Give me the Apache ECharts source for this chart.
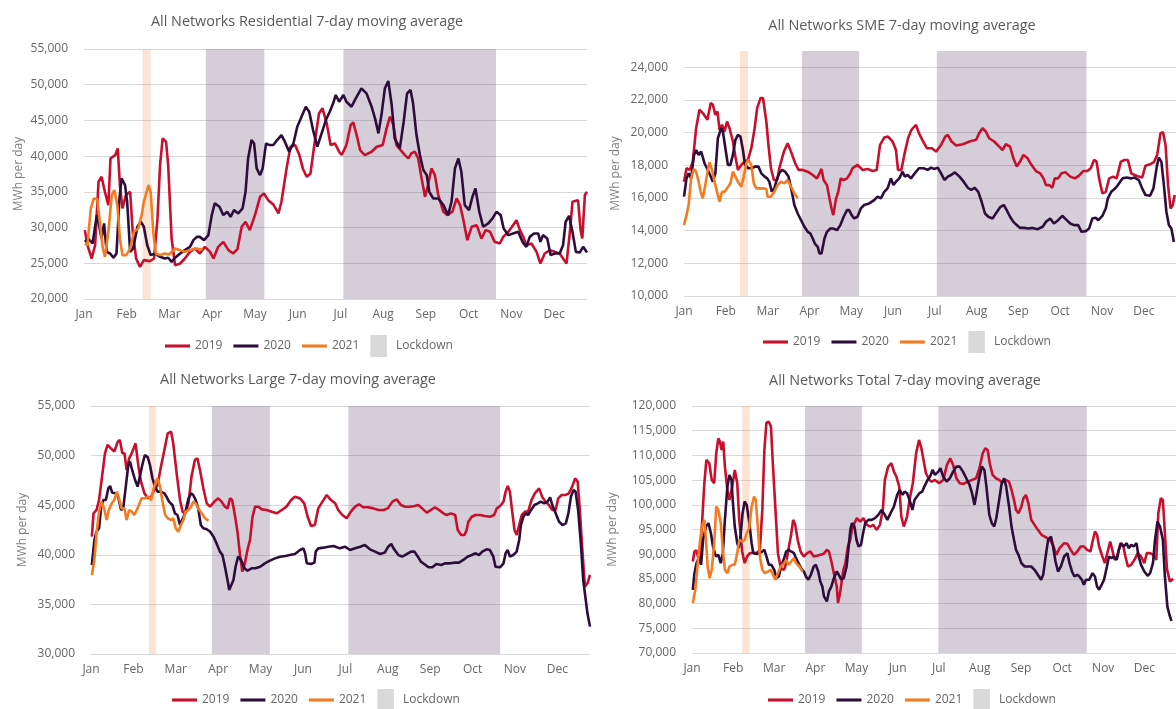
<!DOCTYPE html>
<html><head><meta charset="utf-8">
<script src="https://cdn.jsdelivr.net/npm/echarts@6/dist/echarts.min.js"></script>
<style>html,body{margin:0;padding:0;background:#fff}#c{width:1176px;height:709px}</style>
</head><body><div id="c"></div>
<script>
const months = ['Jan','Feb','Mar','Apr','May','Jun','Jul','Aug','Sep','Oct','Nov','Dec'];
const seriesNames = ['2019','2020','2021'];
const titles = ['All Networks Residential 7-day moving average','All Networks SME 7-day moving average','All Networks Large 7-day moving average','All Networks Total 7-day moving average'];

// x = month index (0 = 1 Jan), y = MWh per day
const res2019 = [[0.02,29640],[0.08,27540],[0.18,25670],[0.26,27540],[0.34,36410],[0.41,37110],[0.49,35000],[0.57,33140],[0.62,39680],[0.73,40150],[0.79,41080],[0.84,35950],[0.90,32680],[0.98,34550],[1.08,35010],[1.14,29410],[1.22,25670],[1.31,24500],[1.40,25440],[1.54,25300],[1.64,25670],[1.72,31280],[1.78,38750],[1.84,42480],[1.92,42020],[1.97,38750],[2.05,28470],[2.13,24740],[2.25,24970],[2.36,25670],[2.48,26600],[2.60,27070],[2.71,26370],[2.83,27300],[2.95,26600],[3.03,25670],[3.14,27300],[3.26,28000],[3.38,26840],[3.49,26370],[3.59,26980],[3.69,30110],[3.78,30810],[3.88,29640],[4.00,31740],[4.12,34310],[4.21,34780],[4.31,33840],[4.43,33240],[4.55,31980],[4.62,33610],[4.74,38280],[4.83,41320],[4.94,41550],[5.04,40150],[5.12,38280],[5.21,37110],[5.30,37580],[5.40,42020],[5.50,45990],[5.58,46690],[5.68,44590],[5.77,41550],[5.87,41780],[5.97,40620],[6.03,40150],[6.14,41550],[6.24,44350],[6.30,44730],[6.38,42950],[6.46,40850],[6.57,40150],[6.73,40620],[6.85,41320],[6.99,41550],[7.08,43890],[7.16,45520],[7.24,44350],[7.31,41550],[7.41,40850],[7.51,40150],[7.59,39680],[7.66,40380],[7.74,40620],[7.82,39680],[7.90,36880],[7.98,34310],[8.05,35950],[8.13,38280],[8.21,37340],[8.29,34550],[8.41,32210],[8.50,31740],[8.62,32210],[8.72,34080],[8.80,33140],[8.87,31280],[8.97,28240],[9.07,30110],[9.19,30340],[9.30,28470],[9.40,29640],[9.50,29410],[9.61,28000],[9.73,27770],[9.81,28700],[9.93,29410],[10.04,30340],[10.12,31040],[10.20,29640],[10.28,28700],[10.35,27540],[10.47,27770],[10.59,26600],[10.68,24970],[10.78,26370],[10.90,26840],[11.02,26600],[11.13,26370],[11.21,25670],[11.29,24970],[11.37,29410],[11.43,33610],[11.56,33840],[11.62,29640],[11.66,28470],[11.72,34550],[11.77,35010]];
const res2020 = [[0.02,28000],[0.10,28470],[0.20,27770],[0.30,31740],[0.36,30110],[0.41,28470],[0.47,30580],[0.53,26600],[0.61,26370],[0.69,25770],[0.76,26370],[0.83,34080],[0.88,36880],[0.96,35950],[1.01,33610],[1.08,26600],[1.15,27070],[1.25,30110],[1.33,30810],[1.40,30110],[1.48,27540],[1.56,26140],[1.66,26370],[1.78,25910],[1.89,25670],[1.97,25770],[2.05,25200],[2.13,25770],[2.25,26370],[2.36,26840],[2.48,27300],[2.56,28240],[2.64,28700],[2.71,28700],[2.81,28240],[2.91,28940],[2.99,31740],[3.06,33380],[3.17,32910],[3.26,31740],[3.35,32210],[3.43,31510],[3.51,32440],[3.61,31980],[3.71,32680],[3.78,35010],[3.84,39680],[3.92,42250],[3.98,41780],[4.04,38280],[4.12,37340],[4.18,38280],[4.26,41780],[4.34,41550],[4.43,41550],[4.52,42250],[4.62,42950],[4.70,42020],[4.80,40620],[4.90,41780],[4.99,44120],[5.09,45520],[5.19,46920],[5.27,46220],[5.36,43650],[5.46,41320],[5.56,43190],[5.66,45050],[5.75,46220],[5.83,47390],[5.89,48560],[5.97,47620],[6.07,48560],[6.14,47620],[6.26,46920],[6.36,48090],[6.49,49490],[6.61,48790],[6.73,46920],[6.81,45290],[6.89,43190],[6.96,45750],[7.04,49490],[7.12,50520],[7.20,47160],[7.27,42480],[7.39,41080],[7.48,44820],[7.56,48790],[7.64,49260],[7.70,47390],[7.78,42950],[7.86,40150],[7.94,38050],[8.02,37340],[8.08,35010],[8.17,34080],[8.29,34080],[8.41,33140],[8.52,31740],[8.60,33610],[8.68,38280],[8.76,39680],[8.83,37810],[8.91,33140],[9.01,32440],[9.09,34310],[9.16,35480],[9.25,32210],[9.34,30110],[9.46,30580],[9.56,31280],[9.65,32210],[9.75,31740],[9.82,29870],[9.93,28940],[10.04,29170],[10.16,29410],[10.26,28000],[10.35,27300],[10.43,28700],[10.53,29170],[10.63,29170],[10.68,28000],[10.74,28940],[10.84,28470],[10.92,26140],[11.02,26370],[11.13,26370],[11.21,27540],[11.27,30810],[11.35,31650],[11.43,29410],[11.51,26600],[11.60,26510],[11.68,27300],[11.77,26510]];
const res2021 = [[0.02,27770],[0.08,27540],[0.16,32680],[0.23,34080],[0.31,33990],[0.37,30810],[0.44,27070],[0.49,25910],[0.57,29410],[0.65,34550],[0.71,35250],[0.78,33140],[0.84,28470],[0.90,26140],[0.99,26140],[1.08,27070],[1.17,29410],[1.27,29870],[1.35,31740],[1.40,33610],[1.51,35950],[1.56,35010],[1.62,29410],[1.68,26370],[1.78,26140],[1.89,26370],[1.99,26230],[2.13,27070],[2.25,26840],[2.36,26600],[2.48,26840],[2.60,27070],[2.70,26980],[2.78,26980]];

const sme2019 = [[0.00,17000],[0.06,17820],[0.14,17720],[0.21,18230],[0.29,20270],[0.37,21400],[0.45,21200],[0.56,20790],[0.64,21810],[0.69,21710],[0.75,21090],[0.80,21300],[0.85,20170],[0.91,20480],[0.97,20070],[1.03,20680],[1.09,20270],[1.17,19460],[1.23,18530],[1.29,17720],[1.37,18030],[1.45,18230],[1.53,18330],[1.61,19050],[1.69,20270],[1.75,21500],[1.83,22120],[1.89,22120],[1.97,20680],[2.02,19250],[2.08,17820],[2.15,17100],[2.23,17100],[2.28,17820],[2.39,18840],[2.48,19350],[2.56,18840],[2.66,18130],[2.74,17720],[2.84,17720],[2.96,17610],[3.08,17410],[3.18,17200],[3.24,17510],[3.29,17780],[3.34,17100],[3.42,16790],[3.48,15980],[3.53,15360],[3.57,14950],[3.64,15980],[3.69,16380],[3.75,17200],[3.82,17100],[3.90,17200],[3.98,17510],[4.03,17820],[4.15,18030],[4.27,17720],[4.39,17780],[4.51,17650],[4.61,17720],[4.69,19250],[4.79,19700],[4.88,19760],[4.99,19460],[5.07,18940],[5.12,17720],[5.20,17720],[5.27,18640],[5.36,19660],[5.44,20170],[5.55,20480],[5.62,19970],[5.70,19560],[5.81,19050],[5.93,19050],[6.03,18840],[6.15,19250],[6.25,19760],[6.31,19860],[6.40,19460],[6.51,19210],[6.67,19290],[6.83,19460],[6.99,19560],[7.06,19970],[7.14,20270],[7.22,20070],[7.30,19660],[7.42,19460],[7.54,19150],[7.62,18940],[7.70,19290],[7.80,19150],[7.88,18430],[7.96,17920],[8.04,18230],[8.12,18640],[8.22,18430],[8.31,18030],[8.42,17650],[8.52,17510],[8.60,17200],[8.66,16790],[8.74,16790],[8.81,16630],[8.87,17200],[8.95,17200],[9.03,17510],[9.13,17570],[9.24,17310],[9.35,17200],[9.45,17370],[9.55,17650],[9.65,17650],[9.73,17820],[9.81,18330],[9.87,18230],[9.93,17200],[10.01,16280],[10.09,16380],[10.17,17200],[10.27,17310],[10.35,17200],[10.45,18230],[10.54,18330],[10.62,18330],[10.70,17510],[10.78,17410],[10.88,17310],[10.96,17250],[11.04,17980],[11.15,18060],[11.24,18190],[11.32,18640],[11.40,19970],[11.46,20030],[11.52,19250],[11.58,16790],[11.64,15360],[11.69,15570],[11.74,16180]];
const sme2020 = [[0.00,16080],[0.06,17200],[0.11,17510],[0.17,17200],[0.24,18640],[0.29,18940],[0.35,18640],[0.41,18840],[0.49,18130],[0.57,17720],[0.64,17310],[0.69,17000],[0.75,17510],[0.81,19660],[0.89,20270],[0.93,20070],[0.99,19050],[1.05,18030],[1.11,18030],[1.17,18640],[1.23,19560],[1.29,19860],[1.35,19760],[1.41,18940],[1.46,18030],[1.54,17820],[1.62,17820],[1.70,17920],[1.78,17920],[1.85,17510],[1.93,17310],[1.99,17200],[2.04,17000],[2.10,16380],[2.16,16590],[2.23,17200],[2.28,17510],[2.34,17720],[2.42,17610],[2.50,17310],[2.58,16380],[2.64,15570],[2.72,15050],[2.80,14640],[2.88,14240],[2.96,13930],[3.02,13830],[3.08,13520],[3.13,13210],[3.20,13010],[3.24,12600],[3.29,12600],[3.36,13520],[3.42,13930],[3.50,14130],[3.58,14130],[3.66,14030],[3.74,14340],[3.82,14850],[3.90,15260],[3.95,15260],[4.01,14950],[4.07,14750],[4.15,14850],[4.23,15360],[4.31,15570],[4.43,15670],[4.55,15870],[4.63,16080],[4.71,15980],[4.79,16380],[4.87,16590],[4.95,17200],[5.01,16790],[5.07,17000],[5.15,17200],[5.23,17610],[5.28,17310],[5.35,17410],[5.43,17200],[5.52,17510],[5.62,17820],[5.73,17820],[5.83,17720],[5.91,17860],[5.99,17780],[6.07,17860],[6.15,17510],[6.23,17100],[6.31,17310],[6.39,17410],[6.48,17570],[6.59,17310],[6.69,17000],[6.79,16630],[6.87,16490],[6.95,16630],[7.04,16380],[7.12,15770],[7.20,15050],[7.28,14850],[7.38,14750],[7.46,15050],[7.57,15460],[7.65,15570],[7.72,15260],[7.80,14850],[7.88,14540],[7.96,14340],[8.04,14170],[8.14,14170],[8.23,14130],[8.34,14170],[8.46,14090],[8.58,14240],[8.66,14540],[8.76,14750],[8.85,14440],[8.95,14640],[9.05,14910],[9.13,14710],[9.24,14440],[9.33,14340],[9.43,14340],[9.51,13930],[9.61,13970],[9.69,14130],[9.77,14750],[9.85,14790],[9.91,14640],[10.01,14910],[10.09,15360],[10.14,15980],[10.22,16380],[10.30,16550],[10.38,16790],[10.49,17200],[10.59,17250],[10.69,17200],[10.78,17250],[10.88,17100],[10.96,16590],[11.04,16180],[11.15,16140],[11.23,16590],[11.31,17920],[11.36,18470],[11.42,18230],[11.48,16790],[11.54,15160],[11.60,14340],[11.66,14130],[11.72,13310]];
const sme2021 = [[0.00,14340],[0.06,14950],[0.11,15570],[0.17,17200],[0.24,17780],[0.29,17610],[0.35,17000],[0.40,16380],[0.45,15980],[0.51,16790],[0.57,17720],[0.61,18190],[0.67,17720],[0.73,17000],[0.80,16280],[0.85,15770],[0.91,16380],[0.97,16380],[1.03,16590],[1.11,16900],[1.17,17610],[1.23,17310],[1.29,17000],[1.37,16690],[1.43,17310],[1.49,18130],[1.54,18330],[1.61,18030],[1.67,16900],[1.73,16590],[1.81,16590],[1.89,16590],[1.97,16550],[2.00,16080],[2.08,16080],[2.16,16380],[2.24,16790],[2.32,17000],[2.40,16900],[2.48,17100],[2.56,16690],[2.64,16280],[2.72,15980]];

const lrg2019 = [[0.02,41830],[0.06,44180],[0.13,44520],[0.19,45520],[0.25,47540],[0.33,50230],[0.39,51070],[0.47,50730],[0.55,50400],[0.63,51400],[0.68,51570],[0.74,50230],[0.79,50230],[0.84,48550],[0.90,49720],[0.96,50230],[1.02,50900],[1.05,51240],[1.12,48880],[1.18,47370],[1.26,46200],[1.34,45690],[1.42,45860],[1.49,46530],[1.57,47040],[1.65,48880],[1.73,50560],[1.81,52240],[1.89,52410],[1.94,51240],[2.02,48210],[2.10,45520],[2.16,44350],[2.22,44180],[2.30,45190],[2.37,47880],[2.45,49560],[2.51,49720],[2.57,48550],[2.65,46700],[2.73,45190],[2.81,44850],[2.91,45360],[3.00,45690],[3.08,45360],[3.16,44850],[3.22,44680],[3.28,45690],[3.33,45520],[3.40,43840],[3.46,42160],[3.51,40150],[3.57,38300],[3.63,39140],[3.69,40480],[3.75,41490],[3.81,43840],[3.87,44850],[3.95,44850],[4.03,44580],[4.14,44520],[4.26,44350],[4.38,44180],[4.50,44520],[4.61,44850],[4.72,45520],[4.81,45860],[4.93,45690],[5.03,45190],[5.11,43840],[5.19,42900],[5.28,43000],[5.36,44680],[5.46,45360],[5.56,46030],[5.66,45520],[5.76,45190],[5.83,44520],[5.93,44010],[6.03,43680],[6.13,44350],[6.23,44850],[6.32,45090],[6.42,44790],[6.54,44790],[6.66,44680],[6.78,44520],[6.90,44520],[7.00,44680],[7.11,45360],[7.21,45590],[7.31,45020],[7.41,44850],[7.52,44850],[7.63,44920],[7.72,45020],[7.81,44680],[7.92,44250],[8.02,44520],[8.11,44790],[8.21,44520],[8.31,44180],[8.39,44010],[8.49,44180],[8.59,44010],[8.65,42500],[8.73,42000],[8.81,42000],[8.86,42500],[8.90,43340],[8.98,43840],[9.07,44010],[9.18,44010],[9.29,43910],[9.41,43840],[9.51,44010],[9.57,44680],[9.65,44920],[9.73,45360],[9.78,46370],[9.83,46940],[9.88,46370],[9.94,44180],[9.99,42500],[10.04,42000],[10.10,43000],[10.16,44010],[10.24,44350],[10.31,44350],[10.39,45520],[10.47,46200],[10.57,46700],[10.64,45860],[10.72,45360],[10.80,45020],[10.88,44520],[10.96,44520],[11.02,45690],[11.10,46030],[11.20,46030],[11.27,46200],[11.35,46870],[11.42,47710],[11.48,47370],[11.53,44520],[11.59,40480],[11.65,36790],[11.71,37130],[11.77,37970]];
const lrg2020 = [[0.02,38970],[0.08,41490],[0.13,42330],[0.19,42670],[0.24,44850],[0.29,45520],[0.35,45520],[0.41,46700],[0.45,46940],[0.50,46260],[0.58,46200],[0.64,45860],[0.71,44520],[0.76,44680],[0.82,46870],[0.88,49050],[0.92,49390],[0.97,48550],[1.04,47540],[1.10,46870],[1.16,48040],[1.21,49050],[1.27,50060],[1.34,49820],[1.39,49050],[1.45,47710],[1.51,46870],[1.57,46370],[1.65,46370],[1.73,46200],[1.78,45860],[1.84,45360],[1.92,45020],[1.98,44180],[2.04,44010],[2.10,43000],[2.15,43510],[2.22,44180],[2.30,45690],[2.36,46200],[2.41,46030],[2.47,45520],[2.53,44680],[2.59,43000],[2.65,42670],[2.73,42570],[2.81,42330],[2.89,41830],[2.96,41160],[3.04,40320],[3.10,39980],[3.16,38800],[3.22,37460],[3.26,36450],[3.30,36280],[3.36,37460],[3.41,38800],[3.47,39810],[3.54,39480],[3.62,38640],[3.69,38400],[3.79,38640],[3.88,38640],[3.99,38800],[4.10,39140],[4.22,39410],[4.34,39640],[4.46,39810],[4.58,39880],[4.69,39980],[4.81,40080],[4.93,40480],[5.01,40650],[5.05,40150],[5.09,39140],[5.19,39070],[5.27,39210],[5.30,40320],[5.36,40650],[5.48,40720],[5.60,40820],[5.72,40890],[5.87,40650],[5.99,40820],[6.11,40480],[6.23,40650],[6.35,40820],[6.46,40990],[6.58,40550],[6.70,40320],[6.82,40080],[6.93,40220],[7.01,40820],[7.08,41090],[7.15,40550],[7.25,39980],[7.34,39810],[7.45,40080],[7.55,40320],[7.63,40320],[7.71,39810],[7.78,39310],[7.86,39070],[7.96,38740],[8.05,38740],[8.15,39070],[8.26,38970],[8.35,39140],[8.47,39140],[8.59,39210],[8.68,39210],[8.78,39480],[8.88,39810],[8.98,39980],[9.07,40150],[9.15,39980],[9.23,40320],[9.33,40550],[9.41,40480],[9.49,39810],[9.54,38800],[9.65,38740],[9.73,39140],[9.78,40150],[9.83,40480],[9.88,39810],[9.96,39980],[10.04,40320],[10.10,41490],[10.14,43000],[10.20,43840],[10.25,44180],[10.31,44010],[10.38,44520],[10.46,45020],[10.54,45190],[10.61,45360],[10.69,45190],[10.77,45360],[10.83,45790],[10.88,45020],[10.96,44180],[11.04,43340],[11.12,43000],[11.20,43170],[11.26,44180],[11.32,45860],[11.38,46530],[11.43,46370],[11.49,44520],[11.56,40820],[11.61,37460],[11.67,35440],[11.71,34100],[11.77,32760]];
const lrg2021 = [[0.02,37960],[0.08,39480],[0.13,42160],[0.19,44350],[0.25,45360],[0.31,44680],[0.37,43510],[0.42,44520],[0.49,45190],[0.55,45520],[0.61,46370],[0.66,45690],[0.72,44680],[0.79,44680],[0.84,43510],[0.90,44520],[0.96,44350],[1.02,44010],[1.08,44520],[1.13,45020],[1.19,45690],[1.27,45690],[1.35,45860],[1.42,45520],[1.47,46530],[1.53,47370],[1.57,47710],[1.63,46870],[1.68,45520],[1.75,44010],[1.81,43680],[1.89,43510],[1.94,43680],[2.00,42670],[2.06,42330],[2.12,43000],[2.18,43510],[2.23,44350],[2.30,44520],[2.36,44850],[2.41,45360],[2.47,45190],[2.53,44680],[2.61,44180],[2.69,43680],[2.77,43440]];

const tot2019 = [[0.02,88520],[0.06,90550],[0.11,90750],[0.18,88190],[0.24,95600],[0.30,104360],[0.35,109080],[0.42,108410],[0.48,105040],[0.54,104360],[0.59,110430],[0.64,113460],[0.68,112790],[0.72,111100],[0.76,112790],[0.80,107730],[0.86,103010],[0.91,100990],[0.98,103690],[1.04,107060],[1.10,104360],[1.15,96950],[1.22,90550],[1.28,88190],[1.34,89540],[1.41,90210],[1.49,90340],[1.57,90210],[1.65,90880],[1.71,98970],[1.76,111100],[1.81,116630],[1.87,116830],[1.92,115820],[1.97,107730],[2.03,98970],[2.09,90210],[2.16,87180],[2.24,86840],[2.29,88190],[2.35,91220],[2.41,93920],[2.46,96950],[2.51,95940],[2.57,92910],[2.64,90550],[2.72,89540],[2.80,90210],[2.88,90550],[2.96,89540],[3.04,89670],[3.12,89870],[3.20,90070],[3.28,90880],[3.33,90550],[3.39,88520],[3.45,86160],[3.52,83470],[3.55,80100],[3.60,82120],[3.68,86840],[3.73,88190],[3.79,91560],[3.85,92910],[3.89,94930],[3.95,96280],[4.01,97290],[4.09,96610],[4.17,97290],[4.25,95940],[4.33,95600],[4.41,95940],[4.49,94930],[4.57,95940],[4.64,98970],[4.69,105040],[4.77,107730],[4.85,108410],[4.91,106720],[4.97,105710],[5.04,103690],[5.09,97620],[5.15,95600],[5.23,97620],[5.29,100990],[5.37,104360],[5.45,110430],[5.52,113130],[5.57,111780],[5.63,109080],[5.69,106380],[5.77,105040],[5.83,104700],[5.91,105040],[6.01,104360],[6.11,105040],[6.20,108070],[6.28,109420],[6.35,108070],[6.43,105370],[6.51,104360],[6.60,104230],[6.71,104700],[6.81,105040],[6.91,105370],[6.99,107400],[7.07,110430],[7.13,111440],[7.19,111100],[7.24,108410],[7.31,106050],[7.39,105370],[7.47,105040],[7.55,104500],[7.63,105040],[7.71,104700],[7.77,103010],[7.83,100990],[7.88,98970],[7.94,98300],[8.01,99650],[8.06,101330],[8.12,102000],[8.18,100320],[8.25,96950],[8.33,95940],[8.41,94930],[8.50,93920],[8.60,93440],[8.70,92910],[8.78,91890],[8.86,89870],[8.94,91220],[9.05,92230],[9.13,92100],[9.21,90880],[9.29,89870],[9.37,90550],[9.45,91560],[9.53,91560],[9.61,90880],[9.69,90550],[9.74,92570],[9.80,94590],[9.85,93920],[9.90,91560],[9.98,89540],[10.04,88190],[10.10,90210],[10.17,92570],[10.22,90880],[10.28,88860],[10.34,89540],[10.42,92230],[10.49,91560],[10.54,89540],[10.60,87510],[10.68,87850],[10.76,88860],[10.84,90210],[10.92,89540],[11.00,88190],[11.06,90210],[11.14,90210],[11.22,89870],[11.29,88860],[11.34,98300],[11.40,101330],[11.45,100990],[11.50,94250],[11.55,87000],[11.62,84500],[11.70,85000]];
const tot2020 = [[0.02,82800],[0.06,86160],[0.11,88190],[0.18,89540],[0.22,87850],[0.27,92910],[0.34,95600],[0.40,96280],[0.46,94250],[0.51,91560],[0.58,89540],[0.64,89870],[0.70,88190],[0.75,90210],[0.80,96950],[0.86,103690],[0.91,106050],[0.96,105040],[0.99,100990],[1.04,95600],[1.10,92230],[1.14,91220],[1.18,93580],[1.23,98300],[1.28,100660],[1.33,99980],[1.39,96610],[1.45,92230],[1.49,90210],[1.57,90070],[1.65,90210],[1.71,90550],[1.76,90880],[1.81,89540],[1.87,87850],[1.93,87850],[2.00,86840],[2.05,85150],[2.11,85490],[2.17,87510],[2.24,89200],[2.29,90550],[2.35,90880],[2.41,90550],[2.48,90210],[2.53,89200],[2.59,88190],[2.65,87180],[2.72,86500],[2.77,85490],[2.83,84820],[2.89,85830],[2.96,87510],[3.01,87850],[3.07,86500],[3.12,84480],[3.17,83470],[3.21,81450],[3.28,80440],[3.33,82460],[3.39,83470],[3.45,85150],[3.52,86500],[3.57,85830],[3.63,84820],[3.69,85150],[3.76,87510],[3.81,91560],[3.85,94930],[3.89,96280],[3.95,95600],[4.00,92910],[4.05,91560],[4.11,91890],[4.16,94250],[4.21,96280],[4.29,96950],[4.37,96950],[4.45,97290],[4.53,97960],[4.61,98970],[4.69,97960],[4.75,96950],[4.83,98300],[4.91,99650],[4.99,102000],[5.05,103010],[5.12,102000],[5.17,102680],[5.23,102340],[5.29,100990],[5.36,98970],[5.41,100990],[5.47,101670],[5.53,102340],[5.60,102680],[5.65,103690],[5.73,105040],[5.79,105710],[5.85,107060],[5.91,106050],[5.99,106720],[6.04,107400],[6.11,105710],[6.19,104700],[6.27,105370],[6.35,106720],[6.43,107730],[6.51,107730],[6.59,106720],[6.67,105370],[6.75,104020],[6.81,102340],[6.87,99980],[6.92,102340],[6.99,105710],[7.05,107730],[7.11,107060],[7.16,103690],[7.23,97960],[7.29,96280],[7.35,95600],[7.40,97290],[7.47,100990],[7.53,104360],[7.59,105370],[7.64,103690],[7.71,99650],[7.77,95600],[7.83,92910],[7.88,90880],[7.94,89870],[8.01,88190],[8.09,87510],[8.17,87510],[8.25,87510],[8.33,86840],[8.41,85830],[8.49,84820],[8.54,85830],[8.60,89540],[8.66,92910],[8.73,93580],[8.78,91560],[8.84,88520],[8.90,86500],[8.97,87510],[9.05,89540],[9.13,90210],[9.18,88190],[9.24,86500],[9.30,85490],[9.37,85830],[9.42,85490],[9.48,84820],[9.53,83800],[9.58,84820],[9.66,84820],[9.74,86160],[9.80,85490],[9.85,83470],[9.90,82800],[9.96,83800],[10.02,84820],[10.09,87510],[10.14,89540],[10.20,89200],[10.26,89540],[10.33,88860],[10.38,90880],[10.44,92230],[10.50,91560],[10.57,92230],[10.62,91220],[10.68,91890],[10.74,91560],[10.81,92230],[10.86,89540],[10.92,87850],[11.00,86500],[11.08,85630],[11.14,86160],[11.21,88190],[11.26,92910],[11.32,96610],[11.38,95600],[11.45,92910],[11.50,85490],[11.56,79430],[11.61,77740],[11.66,76500]];
const tot2021 = [[0.02,80100],[0.08,82800],[0.14,88190],[0.19,92230],[0.24,95600],[0.30,96950],[0.34,92910],[0.38,87510],[0.43,85150],[0.48,86840],[0.54,92230],[0.59,99650],[0.64,98970],[0.70,96280],[0.75,90880],[0.80,86840],[0.86,86160],[0.91,87510],[0.98,87850],[1.04,87850],[1.10,90210],[1.15,92910],[1.22,92570],[1.28,92910],[1.33,94250],[1.39,95260],[1.45,99650],[1.51,101670],[1.55,100990],[1.60,95600],[1.65,89540],[1.71,86840],[1.77,86160],[1.85,86500],[1.92,86840],[1.97,85830],[2.03,84820],[2.09,86160],[2.16,87510],[2.24,88190],[2.29,88860],[2.35,87850],[2.41,88520],[2.48,89200],[2.53,88190],[2.61,87510],[2.69,86500]];

// shaded periods (month index)
const resLockdowns = [[2.85,4.22],[6.07,9.64]];
const smeLockdowns = [[2.82,4.19],[6.05,9.63]];
const lrgLockdowns = [[2.85,4.22],[6.07,9.65]];
const totLockdowns = [[2.75,4.13],[5.99,9.60]];
const resBand2021 = [1.37,1.56];
const smeBand2021 = [1.34,1.53];
const lrgBand2021 = [1.37,1.53];
const totBand2021 = [1.22,1.40];

const F = "'Open Sans','Noto Sans','DejaVu Sans',sans-serif";
const COLORS = ['#C8102E','#2E0D3D','#F47B20'];
const LOCK = 'rgba(110,85,125,0.29)';
const BAND = 'rgba(248,150,90,0.27)';
const TXT = '#666666';
const LINE_ICON = 'path://M0,0h26v3.2h-26z';
const BOX_ICON = 'path://M0,0h18v24h-18z';

const panels = [
  {title:titles[0], data:[res2019,res2020,res2021], lock:resLockdowns, band:resBand2021, y:[20000,55000,5000], hideMax:false,
   grid:{left:84,top:49,width:503,height:250}, tx:307, ty:15, lx:165, ly:335, nameGap:59},
  {title:titles[1], data:[sme2019,sme2020,sme2021], lock:smeLockdowns, band:smeBand2021, y:[10000,25000,2000], hideMax:true,
   grid:{left:684,top:51,width:493,height:245}, tx:902, ty:19, lx:763, ly:331, nameGap:62},
  {title:titles[2], data:[lrg2019,lrg2020,lrg2021], lock:lrgLockdowns, band:lrgBand2021, y:[30000,55000,5000], hideMax:false,
   grid:{left:91,top:406,width:499,height:248}, tx:298, ty:373, lx:172, ly:689, nameGap:62},
  {title:titles[3], data:[tot2019,tot2020,tot2021], lock:totLockdowns, band:totBand2021, y:[70000,120000,5000], hideMax:false,
   grid:{left:692,top:406,width:491,height:247}, tx:905, ty:374, lx:768, ly:689, nameGap:73}
];

const option = {animation:false, backgroundColor:'#fff', title:[], legend:[], grid:[], xAxis:[], yAxis:[], series:[]};
panels.forEach((p,i)=>{
  option.title.push({text:p.title, left:p.tx, top:p.ty, textAlign:'center', padding:0,
    textStyle:{fontFamily:F, fontSize:14.4, fontWeight:'normal', color:'#595959'}});
  option.grid.push(Object.assign({containLabel:false}, p.grid));
  option.xAxis.push({type:'value', gridIndex:i, min:0, max:11.77, interval:1,
    axisLine:{show:false}, axisTick:{show:false}, splitLine:{show:false},
    axisLabel:{fontFamily:F, fontSize:12, color:TXT, margin:10, showMaxLabel:false,
      formatter:v=>Number.isInteger(v)?(months[v]||''):''}});
  option.yAxis.push({type:'value', gridIndex:i, min:p.y[0], max:p.y[1], interval:p.y[2],
    name:'MWh per day', nameLocation:'middle', nameGap:p.nameGap,
    nameTextStyle:{fontFamily:F, fontSize:12, color:'#7f7f7f'},
    axisLine:{show:false}, axisTick:{show:false},
    axisLabel:{fontFamily:F, fontSize:12, color:TXT, margin:16, showMaxLabel:!p.hideMax,
      formatter:v=>v.toLocaleString('en-US')},
    splitLine:{show:true, showMaxLine:!p.hideMax, lineStyle:{color:'#d9d9d9', width:1}}});
  const areas = p.lock.map(b=>[{xAxis:b[0], itemStyle:{color:LOCK}},{xAxis:b[1]}]);
  areas.push([{xAxis:p.band[0], itemStyle:{color:BAND}},{xAxis:p.band[1]}]);
  option.series.push({name:'Lockdown', type:'line', xAxisIndex:i, yAxisIndex:i, data:[], symbol:'none', silent:true,
    itemStyle:{color:'#d9d9d9'}, lineStyle:{color:'#d9d9d9'},
    markArea:{silent:true, z:1, itemStyle:{borderWidth:0}, data:areas}});
  p.data.forEach((d,k)=>{
    option.series.push({name:seriesNames[k], type:'line', xAxisIndex:i, yAxisIndex:i, data:d,
      symbol:'none', showSymbol:false, z:3+k, color:COLORS[k],
      lineStyle:{color:COLORS[k], width:2.6}, emphasis:{disabled:true}});
  });
  option.legend.push({left:p.lx, top:p.ly, padding:0, orient:'horizontal', itemWidth:25, itemHeight:22, itemGap:11,
    selectedMode:false, symbolKeepAspect:true, textStyle:{fontFamily:F, fontSize:12, color:TXT},
    data:[
      {name:'2019', icon:LINE_ICON, itemStyle:{color:COLORS[0], borderWidth:0}},
      {name:'2020', icon:LINE_ICON, itemStyle:{color:COLORS[1], borderWidth:0}},
      {name:'2021', icon:LINE_ICON, itemStyle:{color:COLORS[2], borderWidth:0}},
      {name:'Lockdown', icon:BOX_ICON, itemStyle:{color:'#d9d9d9', borderWidth:0}}]});
});

const chart = echarts.init(document.getElementById('c'), null, {renderer:'canvas'});
chart.setOption(option);
</script>
</body></html>
